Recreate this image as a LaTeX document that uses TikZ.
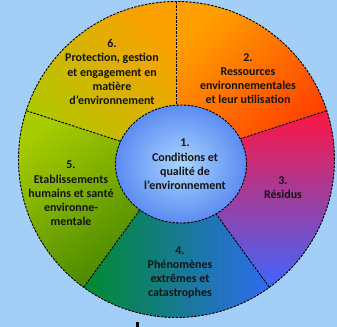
\documentclass[tikz,border=0pt]{standalone}
\usepackage{fontspec}
\setmainfont{Carlito}
\definecolor{bgblue}{HTML}{A3CEF8}
\definecolor{orA}{HTML}{FFA000}
\definecolor{orB}{HTML}{FF3C00}
\definecolor{reA}{HTML}{FF1540}
\definecolor{reM}{HTML}{C545AA}
\definecolor{reB}{HTML}{3D66FF}
\definecolor{teA}{HTML}{00892F}
\definecolor{teM}{HTML}{1C7A88}
\definecolor{teB}{HTML}{2E6CF0}
\definecolor{grA}{HTML}{A8CC00}
\definecolor{grB}{HTML}{3F8200}
\definecolor{yeA}{HTML}{FAA000}
\definecolor{yeB}{HTML}{AEC800}
\definecolor{blIn}{HTML}{AAD4FF}
\definecolor{blOut}{HTML}{5C8CF2}
\definecolor{txt}{HTML}{141414}
\begin{document}
\begin{tikzpicture}[x=1bp,y=1bp,
  divider/.style={draw=black, line width=0.9bp, dash pattern=on 2.5bp off 1.2bp},
  lbl/.style={font=\fontsize{12}{14.3}\selectfont\bfseries, align=center, text=txt, inner sep=0pt}]
\fill[bgblue] (0,0) rectangle (337,327);
\useasboundingbox (0,0) rectangle (337,327);
\def\R{158}
\coordinate (O) at (176.5,167.5);
\coordinate (I) at (181,163);
\coordinate (q2) at ([shift={(90:\R)}]O);
\coordinate (q3) at ([shift={(18:\R)}]O);
\coordinate (q4) at ([shift={(-54:\R)}]O);
\coordinate (q5) at ([shift={(-126:\R)}]O);
\coordinate (q6) at ([shift={(162:\R)}]O);
% sectors
\shade[top color=orA, bottom color=orB, shading angle=45]
  (O) -- (q2) arc[start angle=90, end angle=18, radius=\R] -- cycle;
\shade[top color=reA, middle color=reM, bottom color=reB]
  (O) -- (q3) arc[start angle=18, end angle=-54, radius=\R] -- cycle;
\shade[left color=teA, middle color=teM, right color=teB]
  (O) -- (q4) arc[start angle=-54, end angle=-126, radius=\R] -- cycle;
\shade[top color=grA, bottom color=grB, shading angle=35]
  (O) -- (q5) arc[start angle=-126, end angle=-198, radius=\R] -- cycle;
\shade[top color=yeA, bottom color=yeB, shading angle=-50]
  (O) -- (q6) arc[start angle=162, end angle=90, radius=\R] -- cycle;
% dividers
\draw[divider] (O) -- (q2);
\draw[divider] (O) -- (q3);
\draw[divider] (O) -- (q4);
\draw[divider] (O) -- (q5);
\draw[divider] (O) -- (q6);
\draw[divider] (O) circle[radius=\R];
% inner disc
\shade[inner color=blIn, outer color=blOut] (I) ellipse[x radius=65.5, y radius=59];
\draw[divider] (I) ellipse[x radius=65.5, y radius=59];
% labels
\node[lbl] (t1) at (185,162.5) {1.\\Conditions et\\qualité de\\l’environnement};
\node[lbl] (t2) at (248,248.5) {2.\\Ressources\\environnementales\\et leur utilisation};
\node[lbl] (t3) at (283,139.5) {3.\\Résidus};
\node[lbl] (t4) at (180,54.5) {4.\\Phénomènes\\extrêmes et\\catastrophes};
\node[lbl] (t5) at (71,133.4) {5.\\Etablissements\\humains et santé\\environne-\\mentale};
\node[lbl] (t6) at (112,255) {6.\\Protection, gestion\\et engagement en\\matière\\d’environnement};
% stray mark at the bottom
\fill[black] (135.5,0) rectangle (138.5,5);
\end{tikzpicture}
\end{document}
